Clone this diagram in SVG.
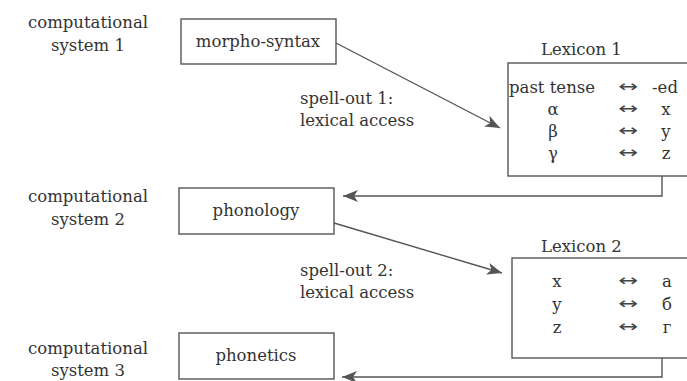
<svg xmlns="http://www.w3.org/2000/svg" width="687" height="381" viewBox="0 0 687 381">
<style>
text{font-family:"DejaVu Serif","Liberation Serif",serif;font-size:16.5px;fill:#333}
.c{text-anchor:middle}
.box{fill:none;stroke:#555;stroke-width:1.4}
.ln{fill:none;stroke:#555;stroke-width:1.4}
.ar{font-family:"DejaVu Sans",sans-serif;font-size:16px;fill:#444}
</style>
<defs>
<marker id="ah" markerUnits="userSpaceOnUse" markerWidth="16" markerHeight="12" refX="15" refY="6" orient="auto">
<path d="M0,0 L15,6 L0,12 L4,6 z" fill="#555"/>
</marker>
</defs>
<g id="label1"><text class="c" x="88" y="28">computational</text><text class="c" x="88" y="51">system 1</text></g>
<g id="label2"><text class="c" x="88" y="202">computational</text><text class="c" x="88" y="225">system 2</text></g>
<g id="label3"><text class="c" x="88" y="354">computational</text><text class="c" x="88" y="376">system 3</text></g>
<g id="morpho-syntax"><rect class="box" x="181" y="19" width="155" height="45"/><text class="c" x="258" y="47">morpho-syntax</text></g>
<g id="phonology"><rect class="box" x="179" y="188" width="155" height="46"/><text class="c" x="256" y="216">phonology</text></g>
<g id="phonetics"><rect class="box" x="179" y="333" width="155" height="46"/><text class="c" x="256" y="361">phonetics</text></g>
<g id="lexicon1">
<text x="541" y="55">Lexicon 1</text>
<rect class="box" x="508" y="63" width="190" height="113"/>
<text x="509" y="93">past tense</text><text class="ar" x="618" y="92" textLength="20" lengthAdjust="spacingAndGlyphs">↔</text><text class="c" x="665" y="93">-ed</text>
<text class="c" x="553" y="115">α</text><text class="ar" x="618" y="114" textLength="20" lengthAdjust="spacingAndGlyphs">↔</text><text class="c" x="666" y="115">x</text>
<text class="c" x="553" y="137">β</text><text class="ar" x="618" y="136" textLength="20" lengthAdjust="spacingAndGlyphs">↔</text><text class="c" x="666" y="137">y</text>
<text class="c" x="553" y="159">γ</text><text class="ar" x="618" y="158" textLength="20" lengthAdjust="spacingAndGlyphs">↔</text><text class="c" x="666" y="159">z</text>
</g>
<g id="lexicon2">
<text x="541" y="252">Lexicon 2</text>
<rect class="box" x="512" y="258" width="190" height="100"/>
<text class="c" x="557" y="287">x</text><text class="ar" x="618" y="286" textLength="20" lengthAdjust="spacingAndGlyphs">↔</text><text class="c" x="667" y="287">а</text>
<text class="c" x="557" y="310">y</text><text class="ar" x="618" y="309" textLength="20" lengthAdjust="spacingAndGlyphs">↔</text><text class="c" x="667" y="310">б</text>
<text class="c" x="557" y="333">z</text><text class="ar" x="618" y="332" textLength="20" lengthAdjust="spacingAndGlyphs">↔</text><text class="c" x="667" y="333">г</text>
</g>
<g id="spellout1"><text x="300" y="104">spell-out 1:</text><text x="300" y="126">lexical access</text></g>
<g id="spellout2"><text x="300" y="276">spell-out 2:</text><text x="300" y="298">lexical access</text></g>
<g id="connectors">
<path class="ln" d="M336,43 L500,128" marker-end="url(#ah)"/>
<path class="ln" d="M662,176 L662,196 L343,196" marker-end="url(#ah)"/>
<path class="ln" d="M334,223 L502,273" marker-end="url(#ah)"/>
<path class="ln" d="M662,358 L662,377 L342,377" marker-end="url(#ah)"/>
</g>
</svg>
